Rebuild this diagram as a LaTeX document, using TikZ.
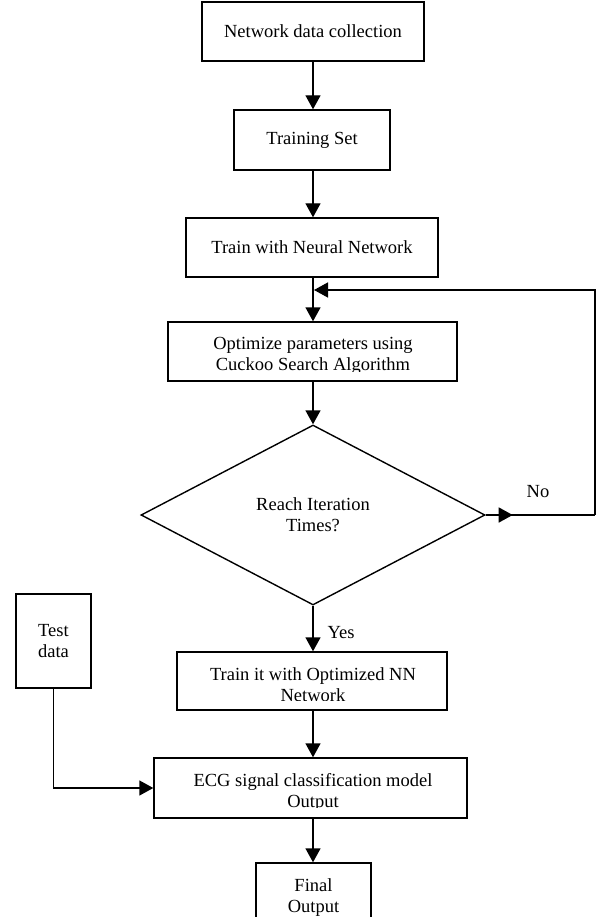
\documentclass[tikz,border=0pt]{standalone}
\usepackage{fontspec}
\setmainfont{Liberation Serif}
\usetikzlibrary{arrows.meta,shapes.geometric}
\begin{document}
\begin{tikzpicture}[x=1pt,y=-1pt,
  txt/.style={inner sep=0pt,font=\fontsize{18.5}{21}\selectfont,align=center},
  box/.style={draw,line width=1.4pt,inner sep=0pt,rectangle,txt},
  line/.style={line width=1.4pt},
  arr/.style={line width=1.4pt,-{Triangle[width=15pt,length=14pt]}}]
\clip (0,0) rectangle (601,917);
% boxes
\node[box,minimum width=222pt,minimum height=59pt] (b1) at (313,31.5) {Network data collection};
\node[box,minimum width=156pt,minimum height=60pt] (b2) at (312,140) {Training Set};
\node[box,minimum width=252pt,minimum height=59pt] (b3) at (312,247.5) {Train with Neural Network};
\node[box,minimum width=289pt,minimum height=59pt] (b4) at (312.5,351.5) {};
\begin{scope}
\clip (168,322) rectangle (457,371);
\node[txt] (t4) at (313,355.5) {Optimize parameters using\\Cuckoo Search Algorithm};
\end{scope}
\node[draw,diamond,line width=1.4pt,inner sep=0pt,minimum width=344pt,minimum height=180pt,txt] (d) at (313,515) {Reach Iteration\\Times?};
\node[box,minimum width=75pt,minimum height=94pt] (test) at (53.5,641) {Test\\data};
\node[box,minimum width=270pt,minimum height=58pt] (b5) at (312,681) {};
\begin{scope}
\clip (177,652) rectangle (447,700);
\node[txt] (t5) at (313,685) {Train it with Optimized NN\\Network};
\end{scope}
\node[box,minimum width=313pt,minimum height=60pt] (b6) at (310.5,788) {};
\begin{scope}
\clip (154,758) rectangle (467,807);
\node[txt] (t6) at (313,792) {ECG signal classification model\\Output};
\end{scope}
\node[box,minimum width=115pt,minimum height=80pt] (fin) at (313.5,903) {};
\node[txt] (t7) at (313.5,898) {Final\\Output};
% labels
\node[txt] (no) at (538,492) {No};
\node[txt] (yes) at (341,633) {Yes};
% connectors
\draw[arr] (b1.south) -- (b1.south |- b2.north);
\draw[arr] (b2.south -| b1.south) -- (b1.south |- b3.north);
\draw[arr] (b3.south -| b1.south) -- (b1.south |- b4.north);
\draw[arr] (b4.south -| b1.south) -- (d.north);
\draw[arr] (d.south) -- (d.south |- b5.north);
\draw[arr] (b5.south -| d.south) -- (d.south |- b6.north);
\draw[arr] (b6.south -| d.south) -- (d.south |- fin.north);
\coordinate (c1) at (595,515);
\coordinate (c2) at (595,290);
\coordinate (fb) at (314,290);
\draw[line] (d.east) -- (c1);
\draw[arr] (d.east) -- ++(27,0);
\draw[arr] (c1) -- (c2) -- (fb);
\draw[arr] (test.south) |- (b6.west);
\end{tikzpicture}
\end{document}
